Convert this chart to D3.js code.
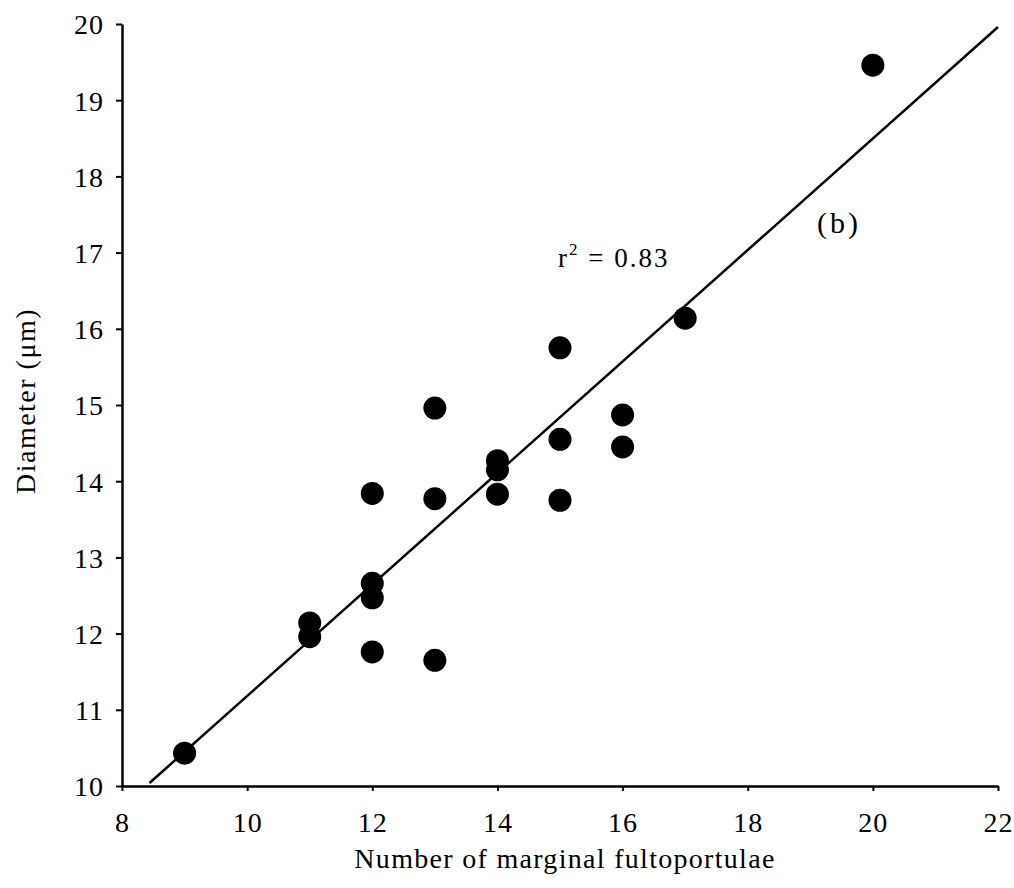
<!DOCTYPE html>
<html>
<head>
<meta charset="utf-8">
<script src="https://cdn.jsdelivr.net/npm/d3@7"></script>
<style>
    body { margin: 0; background: #fff; }
    text { font-family: "Liberation Serif", "Times New Roman", serif; fill: #000; }
</style>
</head>
<body>
<div id="chart"></div>
<script>
// number of marginal fultoportulae vs diameter
const pointX = [9, 11, 11, 12, 12, 12, 12, 13, 13, 13, 14, 14, 14, 15, 15, 15, 16, 16, 17, 20];
const pointY = [10.43, 12.14, 11.96, 12.66, 12.47, 11.76, 13.84, 14.96, 13.77, 11.65,
                14.27, 14.15, 13.83, 15.75, 14.55, 13.75, 14.87, 14.45, 16.14, 19.46];

// regression line endpoints
const fitX = [8.44, 22];
const fitY = [10.04, 19.96];

const xTicks = [8, 10, 12, 14, 16, 18, 20, 22];
const yTicks = [10, 11, 12, 13, 14, 15, 16, 17, 18, 19, 20];

const width = 1014;
const height = 888;
const margin = {top: 24, right: 16, bottom: 102, left: 122};

const svg = d3.select('#chart')
    .append('svg')
    .attr('width', width)
    .attr('height', height);

const x = d3.scaleLinear()
    .domain([8, 22])
    .range([margin.left, width - margin.right]);

const y = d3.scaleLinear()
    .domain([10, 20])
    .range([height - margin.bottom, margin.top]);

// X axis
const xAxis = svg.append('g')
    .attr('transform', `translate(0, ${height - margin.bottom})`)
    .call(d3.axisBottom(x).tickValues(xTicks).tickSize(5).tickSizeOuter(0).tickPadding(21));

// Y axis
const yAxis = svg.append('g')
    .attr('transform', `translate(${margin.left}, 0)`)
    .call(d3.axisLeft(y).tickValues(yTicks).tickSize(6).tickSizeOuter(0).tickPadding(12));

[xAxis, yAxis].forEach(ax => {
    ax.select('.domain').attr('stroke', '#000').attr('stroke-width', 2.5);
    ax.selectAll('.tick line').attr('stroke', '#000').attr('stroke-width', 2);
    ax.selectAll('.tick text')
        .style('font-family', '"Liberation Serif", serif')
        .style('font-size', '28px')
        .style('letter-spacing', '1px')
        .attr('fill', '#000');
});
yAxis.selectAll('.tick text').attr('dy', '0.35em');

// Regression line
const line = d3.line()
    .x(d => x(d[0]))
    .y(d => y(d[1]));

svg.append('path')
    .datum(fitX.map((v, i) => [v, fitY[i]]))
    .attr('d', line)
    .attr('fill', 'none')
    .attr('stroke', '#000')
    .attr('stroke-width', 2.5);

// Points
svg.selectAll('circle.pt')
    .data(pointX.map((v, i) => ({x: v, y: pointY[i]})))
    .join('circle')
    .attr('class', 'pt')
    .attr('cx', d => x(d.x))
    .attr('cy', d => y(d.y))
    .attr('r', 11.5)
    .attr('fill', '#000');

// Annotations
const r2 = svg.append('text')
    .attr('x', 558)
    .attr('y', 267)
    .style('font-size', '27px')
    .style('letter-spacing', '2px');
r2.append('tspan').text('r');
r2.append('tspan').attr('dy', -12).style('font-size', '17px').text('2');
r2.append('tspan').attr('dy', 12).text(' = 0.83');

svg.append('text')
    .attr('x', 817)
    .attr('y', 233)
    .style('font-size', '30px')
    .style('letter-spacing', '3px')
    .text('(b)');

// Axis titles
svg.append('text')
    .attr('x', 565)
    .attr('y', 868)
    .attr('text-anchor', 'middle')
    .style('font-size', '28px')
    .style('letter-spacing', '1.3px')
    .text('Number of marginal fultoportulae');

svg.append('text')
    .attr('transform', 'translate(35, 401) rotate(-90)')
    .attr('text-anchor', 'middle')
    .style('font-size', '28px')
    .style('letter-spacing', '1.5px')
    .text('Diameter (μm)');
</script>
</body>
</html>
